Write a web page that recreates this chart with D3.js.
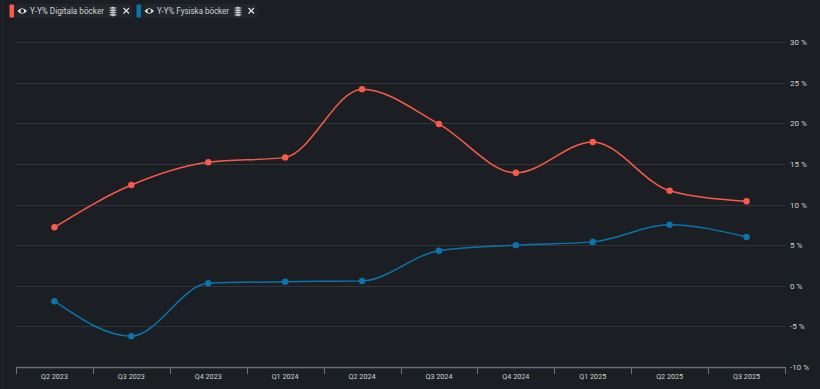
<!DOCTYPE html>
<html>
<head>
<meta charset="utf-8">
<script src="https://cdn.jsdelivr.net/npm/d3@7"></script>
<style>
    html, body { margin: 0; padding: 0; background: #1b1e22; overflow: hidden; }
    text { font-family: Roboto, sans-serif; }
</style>
</head>
<body>
<div id="chart"></div>
<script>
let quarters = ["Q2 2023", "Q3 2023", "Q4 2023", "Q1 2024", "Q2 2024", "Q3 2024", "Q4 2024", "Q1 2025", "Q2 2025", "Q3 2025"]
let digital = [7.2, 12.4, 15.2, 15.8, 24.2, 19.9, 13.9, 17.7, 11.7, 10.4]
let physical = [-1.9, -6.2, 0.3, 0.5, 0.6, 4.3, 5.0, 5.4, 7.5, 6.0]
let yTicks = [-10, -5, 0, 5, 10, 15, 20, 25, 30]
let seriesNames = ["Y-Y% Digitala böcker", "Y-Y% Fysiska böcker"]

let colors = {
    bg: "#1b1e22",
    grid: "#31353a",
    axis: "#6b6f73",
    text: "#d0d2d4",
    digital: "#fa5a4c",
    physical: "#0a75ad"
}

const width = 820
const height = 389

const svg = d3.select("#chart")
    .append("svg")
    .attr("width", width)
    .attr("height", height)

svg.append("rect").attr("width", width).attr("height", height).attr("fill", colors.bg)
svg.append("line").attr("x1", 2.5).attr("x2", 2.5).attr("y1", 0).attr("y2", height).attr("stroke", "#24272b")

const x = d3.scaleBand().domain(quarters).range([16, 785])
const y = d3.scaleLinear().domain([-10, 30]).range([367, 42])
const xPos = q => x(q) + x.bandwidth() / 2

// grid
svg.append("g")
    .selectAll("line")
    .data(yTicks.filter(d => d > -10))
    .join("line")
    .attr("x1", 16)
    .attr("x2", 785)
    .attr("y1", d => Math.round(y(d)) + 0.5)
    .attr("y2", d => Math.round(y(d)) + 0.5)
    .attr("stroke", colors.grid)

// y labels
svg.append("g")
    .selectAll("text")
    .data(yTicks)
    .join("text")
    .attr("x", 790)
    .attr("y", d => y(d) + 3)
    .attr("font-size", 8)
    .attr("fill", colors.text)
    .text(d => d + " %")

// x axis
const xAxis = d3.axisBottom(x).tickSize(0).tickPadding(6)
const xg = svg.append("g").attr("transform", "translate(0,367.5)").call(xAxis)
xg.select(".domain").remove()
xg.selectAll("text")
    .attr("font-size", 8)
    .attr("fill", colors.text)
    .attr("font-family", "Roboto, sans-serif")
    .attr("textLength", 27)
    .attr("lengthAdjust", "spacingAndGlyphs")

svg.append("line")
    .attr("x1", 16).attr("x2", 785.5)
    .attr("y1", 367.5).attr("y2", 367.5)
    .attr("stroke", colors.axis)
    .attr("stroke-width", 1.5)

svg.append("g")
    .selectAll("line")
    .data(quarters.concat(["end"]))
    .join("line")
    .attr("x1", d => Math.round(d == "end" ? 785 : x(d)) + 0.5)
    .attr("x2", d => Math.round(d == "end" ? 785 : x(d)) + 0.5)
    .attr("y1", 367)
    .attr("y2", 374)
    .attr("stroke", colors.axis)

// lines
function drawSeries(values, color) {
    let line = d3.line()
        .x((d, i) => xPos(quarters[i]))
        .y(d => y(d))
        .curve(d3.curveMonotoneX)

    svg.append("path")
        .attr("d", line(values))
        .attr("fill", "none")
        .attr("stroke", color)
        .attr("stroke-width", 1.5)

    svg.append("g")
        .selectAll("circle")
        .data(values)
        .join("circle")
        .attr("cx", (d, i) => xPos(quarters[i]))
        .attr("cy", d => y(d))
        .attr("r", 3.2)
        .attr("fill", color)
}

drawSeries(digital, colors.digital)
drawSeries(physical, colors.physical)

// legend chips
function drawChip(name, color, left, chipWidth, textWidth) {
    let g = svg.append("g").attr("transform", `translate(${left},4)`)

    g.append("rect")
        .attr("width", chipWidth).attr("height", 14).attr("rx", 2)
        .attr("fill", "#22262a")
    g.append("rect")
        .attr("width", 4.5).attr("height", 13).attr("y", 0.5).attr("rx", 1)
        .attr("fill", color)

    // eye
    g.append("path")
        .attr("d", "M8 7 Q12.5 1.5 17.5 7 Q12.5 12.5 8 7 Z")
        .attr("fill", "#e6e7e8")
    g.append("circle").attr("cx", 12.8).attr("cy", 7).attr("r", 1.9).attr("fill", "#22262a")

    g.append("text")
        .attr("x", 20.5)
        .attr("y", 10.3)
        .attr("font-size", 9)
        .attr("fill", colors.text)
        .attr("textLength", textWidth)
        .attr("lengthAdjust", "spacingAndGlyphs")
        .text(name)
    let end = 20.5 + textWidth

    // layers icon
    let layers = g.append("g").attr("transform", `translate(${end + 4},2)`)
    d3.range(4).forEach(i => {
        layers.append("path")
            .attr("d", `M0.5 ${2 + i * 2.3} L5 ${0.4 + i * 2.3} L9.5 ${2 + i * 2.3} L5 ${3.6 + i * 2.3} Z`)
            .attr("fill", "#cfd1d3")
            .attr("stroke", "#22262a")
            .attr("stroke-width", 0.4)
    })

    // close
    g.append("path")
        .attr("d", `M${end + 19.5} 4 L${end + 25} 9.5 M${end + 25} 4 L${end + 19.5} 9.5`)
        .attr("stroke", "#e6e7e8")
        .attr("stroke-width", 1.1)
}

drawChip(seriesNames[0], colors.digital, 9.5, 123, 74)
drawChip(seriesNames[1], colors.physical, 136.5, 121, 72)
</script>
</body>
</html>
